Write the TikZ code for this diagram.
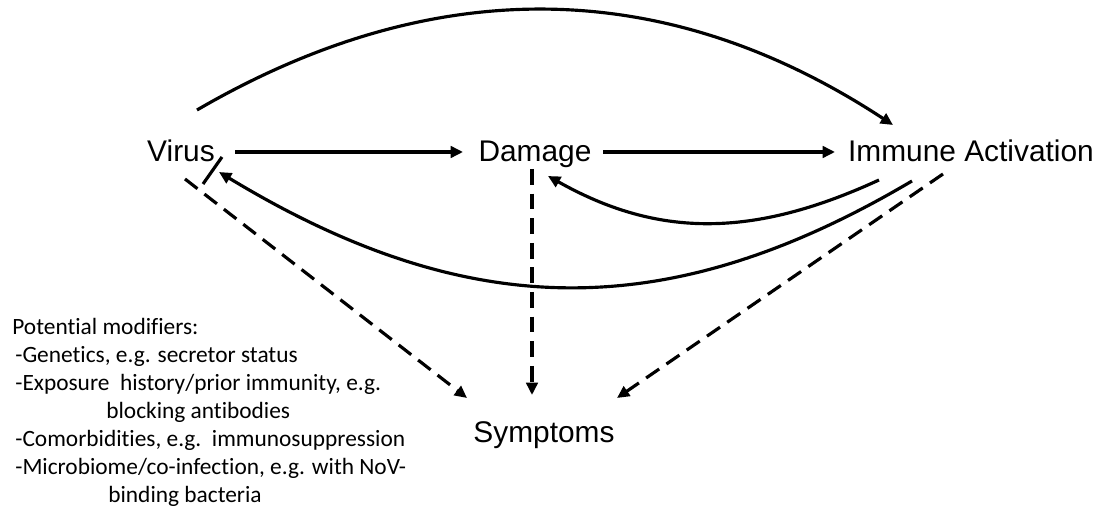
\documentclass[tikz,border=0pt]{standalone}
\usepackage{fontspec}
\setmainfont{Liberation Sans}
\newfontfamily\calfont[Ligatures=NoCommon]{Carlito}
\usetikzlibrary{arrows.meta,calc}
\tikzset{
  lab/.style={font=\fontsize{17}{20}\selectfont, inner sep=0pt, anchor=base},
  mod/.style={font=\calfont\fontsize{13.3}{16}\selectfont, inner sep=0pt, anchor=base west},
  conn/.style={line width=1.8pt, -{Triangle[length=7pt,width=6.5pt]}},
  dconn/.style={conn, dash pattern=on 9pt off 5pt},
  bar/.style={line width=1.8pt}
}
\begin{document}
\begin{tikzpicture}[x=0.02cm,y=-0.02cm]
\useasboundingbox (0,0) rectangle (1107,513);
% labels
\node[lab] (virus) at (181,162) {Virus};
\node[lab] (damage) at (535,162) {Damage};
\node[lab] (immune) at (971,162) {Immune Activation};
\node[lab] (symptoms) at (544,443) {Symptoms};
% modifiers
\node[mod] (m1) at (12,335) {Potential modifiers:};
\node[mod] (m2) at (15,363) {-Genetics, e.g. secretor status};
\node[mod] (m3) at (15,391) {-Exposure\ \ history/prior immunity, e.g.};
\node[mod] (m4) at (106,419) {blocking antibodies};
\node[mod] (m5) at (15,447) {-Comorbidities, e.g.\ \ immunosuppression};
\node[mod] (m6) at (15,475) {-Microbiome/co-infection, e.g. with NoV-};
\node[mod] (m7) at (108,503) {binding bacteria};
% straight arrows
\draw[conn] ($(virus.base)+(54,-10)$) -- ($(damage.base)+(-72,-10)$);
\draw[conn] ($(damage.base)+(68,-10)$) -- ($(immune.base)+(-136,-10)$);
% top arc
\draw[conn] ($(virus.base)+(16,-52)$) .. controls +(234,-136) and +(-230,-151) .. ($(immune.base)+(-78,-37)$);
% inner curve immune -> damage
\draw[conn] ($(immune.base)+(-92,18)$) .. controls +(-126,58) and +(110,62) .. ($(damage.base)+(13,14)$);
% outer curve immune -> virus
\draw[conn] ($(immune.base)+(-59,19)$) .. controls +(-242,143) and +(251,152) .. ($(virus.base)+(38,10)$);
% bar at virus
\draw[bar] ($(virus.base)+(41,-5)$) -- ($(virus.base)+(22,22)$);
% dashed arrows to symptoms
\draw[dconn] ($(virus.base)+(4,17)$) -- ($(symptoms.base)+(-77,-45)$);
\draw[dconn] ($(damage.base)+(-3,7)$) -- ($(symptoms.base)+(-12,-48)$);
\draw[dconn] ($(immune.base)+(-28,12)$) -- ($(symptoms.base)+(73,-45)$);
\end{tikzpicture}
\end{document}
